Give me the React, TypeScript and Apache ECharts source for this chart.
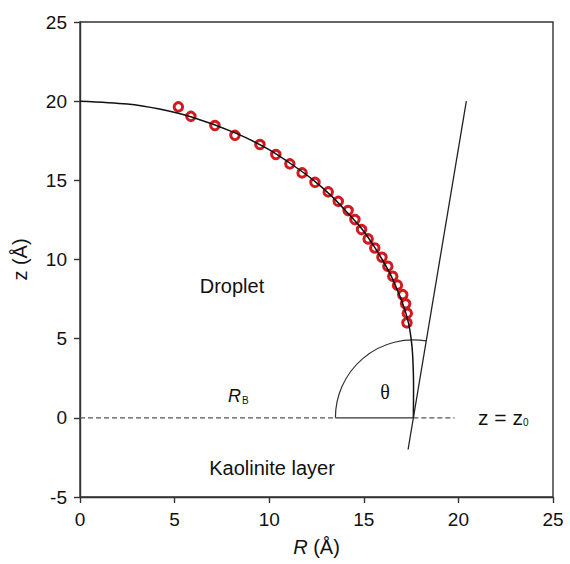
import React, { useEffect, useRef } from 'react';
import * as echarts from 'echarts';

// Simulated droplet surface points (open red circles)
const pointR = [5.2, 5.86, 7.13, 8.19, 9.51, 10.35, 11.09, 11.74, 12.42, 13.12, 13.65, 14.17, 14.53, 14.88, 15.23, 15.58, 15.96, 16.27, 16.53, 16.78, 17.06, 17.21, 17.3, 17.28];
const pointZ = [19.64, 19.04, 18.46, 17.84, 17.26, 16.63, 16.04, 15.47, 14.87, 14.27, 13.67, 13.09, 12.52, 11.89, 11.3, 10.73, 10.14, 9.57, 8.94, 8.38, 7.78, 7.2, 6.6, 6.0];

// Fitted droplet profile (black curve)
const fitR = [0, 2.5, 4.2, 5.9, 8.2, 9.9, 11.2, 12.35, 13.3, 14.1, 14.85, 15.45, 15.97, 16.43, 16.8, 17.12, 17.36, 17.5, 17.58, 17.63, 17.62];
const fitZ = [20, 19.82, 19.5, 19, 18, 17, 16, 15, 14, 13, 12, 11, 10, 9, 8, 7, 6, 5, 4, 2, 0];

// Tangent line at the contact point
const tangentR = [17.34, 20.42];
const tangentZ = [-2.0, 20.0];

// Base line z = z0
const baseDashLeft = [0, 13.5];
const baseSolid = [13.5, 17.62];
const baseDashRight = [17.62, 19.8];
const contactR = 17.62;

const xTicks = { min: 0, max: 25, interval: 5 };
const yTicks = { min: -5, max: 25, interval: 5 };

const FONT = '"Liberation Sans", Arial, Helvetica, sans-serif';
const INK = '#111';
const AXIS = '#333';

export default function App() {
  const ref = useRef<HTMLDivElement>(null);
  useEffect(() => {
    document.body.style.margin = '0';
    if (!ref.current) return;
    const chart = echarts.init(ref.current, undefined, { renderer: 'svg' });
    const pts = pointR.map((r, i) => [r, pointZ[i]]);
    const fit = fitR.map((r, i) => [r, fitZ[i]]);
    const tangent = tangentR.map((r, i) => [r, tangentZ[i]]);
    const option: any = {
      animation: false,
      backgroundColor: '#fff',
      grid: { left: 80, right: 17, top: 22, bottom: 67, show: true, borderColor: AXIS, borderWidth: 1.4 },
      xAxis: {
        type: 'value',
        min: xTicks.min, max: xTicks.max, interval: xTicks.interval,
        name: '{i|R} (Å)',
        nameLocation: 'middle',
        nameGap: 40,
        nameTextStyle: { fontSize: 20, color: INK, fontFamily: FONT, rich: { i: { fontStyle: 'italic', fontSize: 20, color: INK, fontFamily: FONT } } },
        axisLine: { show: true, onZero: false, lineStyle: { color: AXIS, width: 1.4 } },
        axisTick: { show: true, inside: false, length: 6, lineStyle: { color: AXIS, width: 1.4 } },
        axisLabel: { fontSize: 19, color: INK, fontFamily: FONT, margin: 13 },
        splitLine: { show: false },
      },
      yAxis: {
        type: 'value',
        min: yTicks.min, max: yTicks.max, interval: yTicks.interval,
        name: 'z (Å)',
        nameLocation: 'middle',
        nameGap: 50,
        nameTextStyle: { fontSize: 20, color: INK, fontFamily: FONT },
        axisLine: { show: true, onZero: false, lineStyle: { color: AXIS, width: 1.4 } },
        axisTick: { show: true, inside: false, length: 6, lineStyle: { color: AXIS, width: 1.4 } },
        axisLabel: { fontSize: 19, color: INK, fontFamily: FONT, margin: 13 },
        splitLine: { show: false },
      },
      series: [
        {
          type: 'line', data: baseDashLeft.map((r) => [r, 0]), symbol: 'none',
          lineStyle: { color: '#555', width: 1.2, type: [5, 3], opacity: 1 }, z: 2,
        },
        {
          type: 'line', data: baseSolid.map((r) => [r, 0]), symbol: 'none',
          lineStyle: { color: '#333', width: 1.3 }, z: 2,
        },
        {
          type: 'line', data: baseDashRight.map((r) => [r, 0]), symbol: 'none',
          lineStyle: { color: '#555', width: 1.2, type: [5, 3], opacity: 1 }, z: 2,
        },
        {
          type: 'scatter', data: pts, symbol: 'circle', symbolSize: 8.5,
          itemStyle: { color: 'rgba(0,0,0,0)', borderColor: '#d01a1f', borderWidth: 3, opacity: 1 }, z: 3,
        },
        {
          type: 'line', data: fit, symbol: 'none', smooth: 0.3,
          lineStyle: { color: '#111', width: 1.5 }, z: 4,
        },
        {
          type: 'line', data: tangent, symbol: 'none',
          lineStyle: { color: '#222', width: 1.3 }, z: 4,
        },
        {
          type: 'custom',
          coordinateSystem: 'cartesian2d',
          data: [[contactR, 0, tangentR[1], tangentZ[1], baseSolid[0]]],
          z: 4,
          renderItem: (_params: any, api: any) => {
            const c = api.coord([api.value(0), api.value(1)]);
            const top = api.coord([api.value(2), api.value(3)]);
            const left = api.coord([api.value(4), api.value(1)]);
            const r = c[0] - left[0];
            const ang = Math.atan2(top[1] - c[1], top[0] - c[0]) + Math.PI * 2;
            return {
              type: 'arc',
              shape: { cx: c[0], cy: c[1], r, startAngle: Math.PI, endAngle: ang, clockwise: true },
              style: { stroke: '#333', lineWidth: 1.2, fill: 'none' },
            };
          },
        },
      ],
      graphic: [
        { type: 'text', x: 232, y: 286, style: { text: 'Droplet', fill: INK, font: `20px ${FONT}`, align: 'center', verticalAlign: 'middle' } },
        { type: 'text', x: 272, y: 468, style: { text: 'Kaolinite layer', fill: INK, font: `20px ${FONT}`, align: 'center', verticalAlign: 'middle' } },
        {
          type: 'text', x: 228, y: 396,
          style: {
            text: '{r|R}{b|B}', align: 'left', verticalAlign: 'middle',
            rich: {
              r: { fontStyle: 'italic', fontSize: 18, fontFamily: FONT, fill: INK, color: INK, verticalAlign: 'bottom' },
              b: { fontSize: 10, fontFamily: FONT, fill: INK, color: INK, verticalAlign: 'bottom', padding: [0, 0, 0, 1] },
            },
          },
        },
        { type: 'text', x: 385, y: 392, style: { text: 'θ', fill: INK, font: `20px "Liberation Serif", "Times New Roman", serif`, align: 'center', verticalAlign: 'middle' } },
        {
          type: 'text', x: 478, y: 417,
          style: {
            text: '{a|z = z}{s|0}', align: 'left', verticalAlign: 'middle',
            rich: {
              a: { fontSize: 21, fontFamily: FONT, fill: INK, color: INK, verticalAlign: 'bottom' },
              s: { fontSize: 10, fontFamily: FONT, fill: INK, color: INK, verticalAlign: 'bottom' },
            },
          },
        },
      ],
    };
    chart.setOption(option);
    return () => chart.dispose();
  }, []);
  return <div ref={ref} style={{ width: 570, height: 564, position: 'fixed', left: 0, top: 0, background: '#fff' }} />;
}
